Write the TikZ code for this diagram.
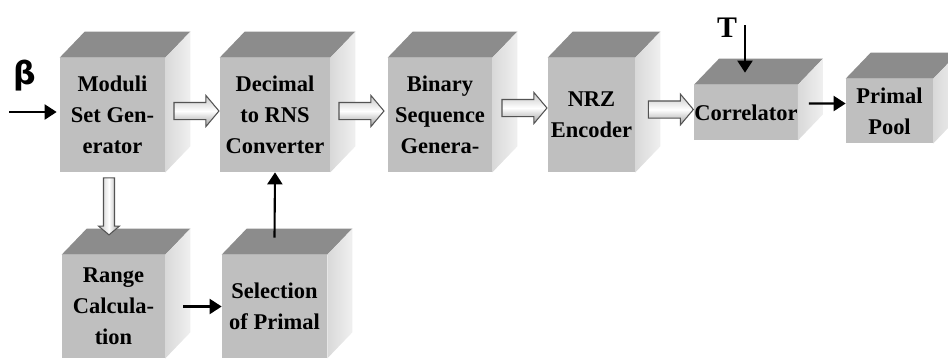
\documentclass[tikz,border=0pt]{standalone}
\usepackage{fontspec}
\setmainfont{Liberation Serif}
\newfontfamily\greekfont{DejaVu Sans}
\usetikzlibrary{arrows.meta,shapes.arrows}

\begin{document}
\begin{tikzpicture}[
    x=0.02cm, y=-0.02cm,
    block/.style n args={2}{
        fill=gray!50,
        minimum width=#1cm,
        minimum height=#2cm,
        inner sep=0pt,
        align=center,
        font=\bfseries\fontsize{12.8}{17.6}\selectfont
      },
    topface/.style={fill=gray!90},
    sideface/.style={left color=gray!30, right color=gray!12},
    hollow/.style={
        single arrow,
        draw=gray!65!black,
        line width=0.6pt,
        minimum height=0.9cm,
        single arrow head extend=0.14cm,
        single arrow tip angle=100,
        inner sep=0pt,
        top color=gray!45,
        bottom color=gray!75,
        middle color=white
      },
    flow/.style={-{Triangle[length=0.24cm,width=0.3cm]}, line width=1.2pt}
  ]
  \clip (0,0) rectangle (948,360);

  % front faces
  \node[block={2.1}{2.28}] (mod) at (112.5,115) {Moduli\\Set Gen-\\erator};
  \node[block={2.2}{2.28}] (dec) at (275,115) {Decimal\\to RNS\\Converter};
  \node[block={2.08}{2.28}] (bin) at (440,115) {Binary\\Sequence\\Genera-};
  \node[block={1.74}{2.28}] (nrz) at (591.5,115) {NRZ\\Encoder};
  \node[block={2.04}{1.1}] (cor) at (746,112.5) {Correlator};
  \node[block={1.74}{1.28}] (pool) at (889.5,111) {Primal\\Pool};
  \node[block={2.06}{2.06}] (rng) at (113.5,306.5) {Range\\Calcula-\\tion};
  \node[block={2.1}{2.06}] (sel) at (274.5,306.5) {Selection\\of Primal};

  % top and side faces
  \foreach \n in {mod,dec,bin,nrz,cor,pool,rng,sel} {
    \fill[topface] (\n.north west) -- ++(25,-26) -- ([shift={(25,-26)}]\n.north east) -- (\n.north east) -- cycle;
    \path[sideface] (\n.north east) -- ++(25,-26) -- ([shift={(25,-26)}]\n.south east) -- (\n.south east) -- cycle;
  }

  % hollow arrows
  \node[hollow, anchor=tip] (h1) at ([yshift=0.08cm]dec.west) {\rule{0pt}{0.32cm}};
  \node[hollow, anchor=tip] (h2) at ([shift={(-0.06cm,0.08cm)}]bin.west) {\rule{0pt}{0.32cm}};
  \node[hollow, anchor=tip] (h3) at ([yshift=0.14cm]nrz.west) {\rule{0pt}{0.32cm}};
  \node[hollow, anchor=tip] (h4) at ([yshift=0.06cm]cor.west) {\rule{0pt}{0.32cm}};
  \node[hollow, anchor=tail, shape border rotate=270, minimum height=1.14cm,
        single arrow head extend=0.1cm,
        left color=gray!45, right color=gray!75, middle color=white]
        (h5) at ([shift={(-0.07cm,-0.1cm)}]mod.south) {\rule{0.2cm}{0pt}};

  % inputs
  \node[font=\greekfont\bfseries\fontsize{18}{18}\selectfont] (beta) at (25,76) {β};
  \node[font=\bfseries\fontsize{17}{17}\selectfont] (T) at (727,28) {T};
  \coordinate (src) at (9,112);
  \coordinate (tsrc) at (745,25);

  % black arrows
  \draw[flow] (src) -- ([xshift=-0.06cm]src -| mod.west);
  \draw[flow] (tsrc) -- ([yshift=0.24cm]tsrc |- cor.north);
  \draw[flow] ([shift={(0.22cm,0.18cm)}]cor.east) -- ([yshift=0.15cm]pool.west);
  \draw[flow, shorten <=0.36cm] (rng) -- (sel);
  \draw[flow] ([yshift=0.34cm]sel.north) -- (dec.south);
\end{tikzpicture}
\end{document}
